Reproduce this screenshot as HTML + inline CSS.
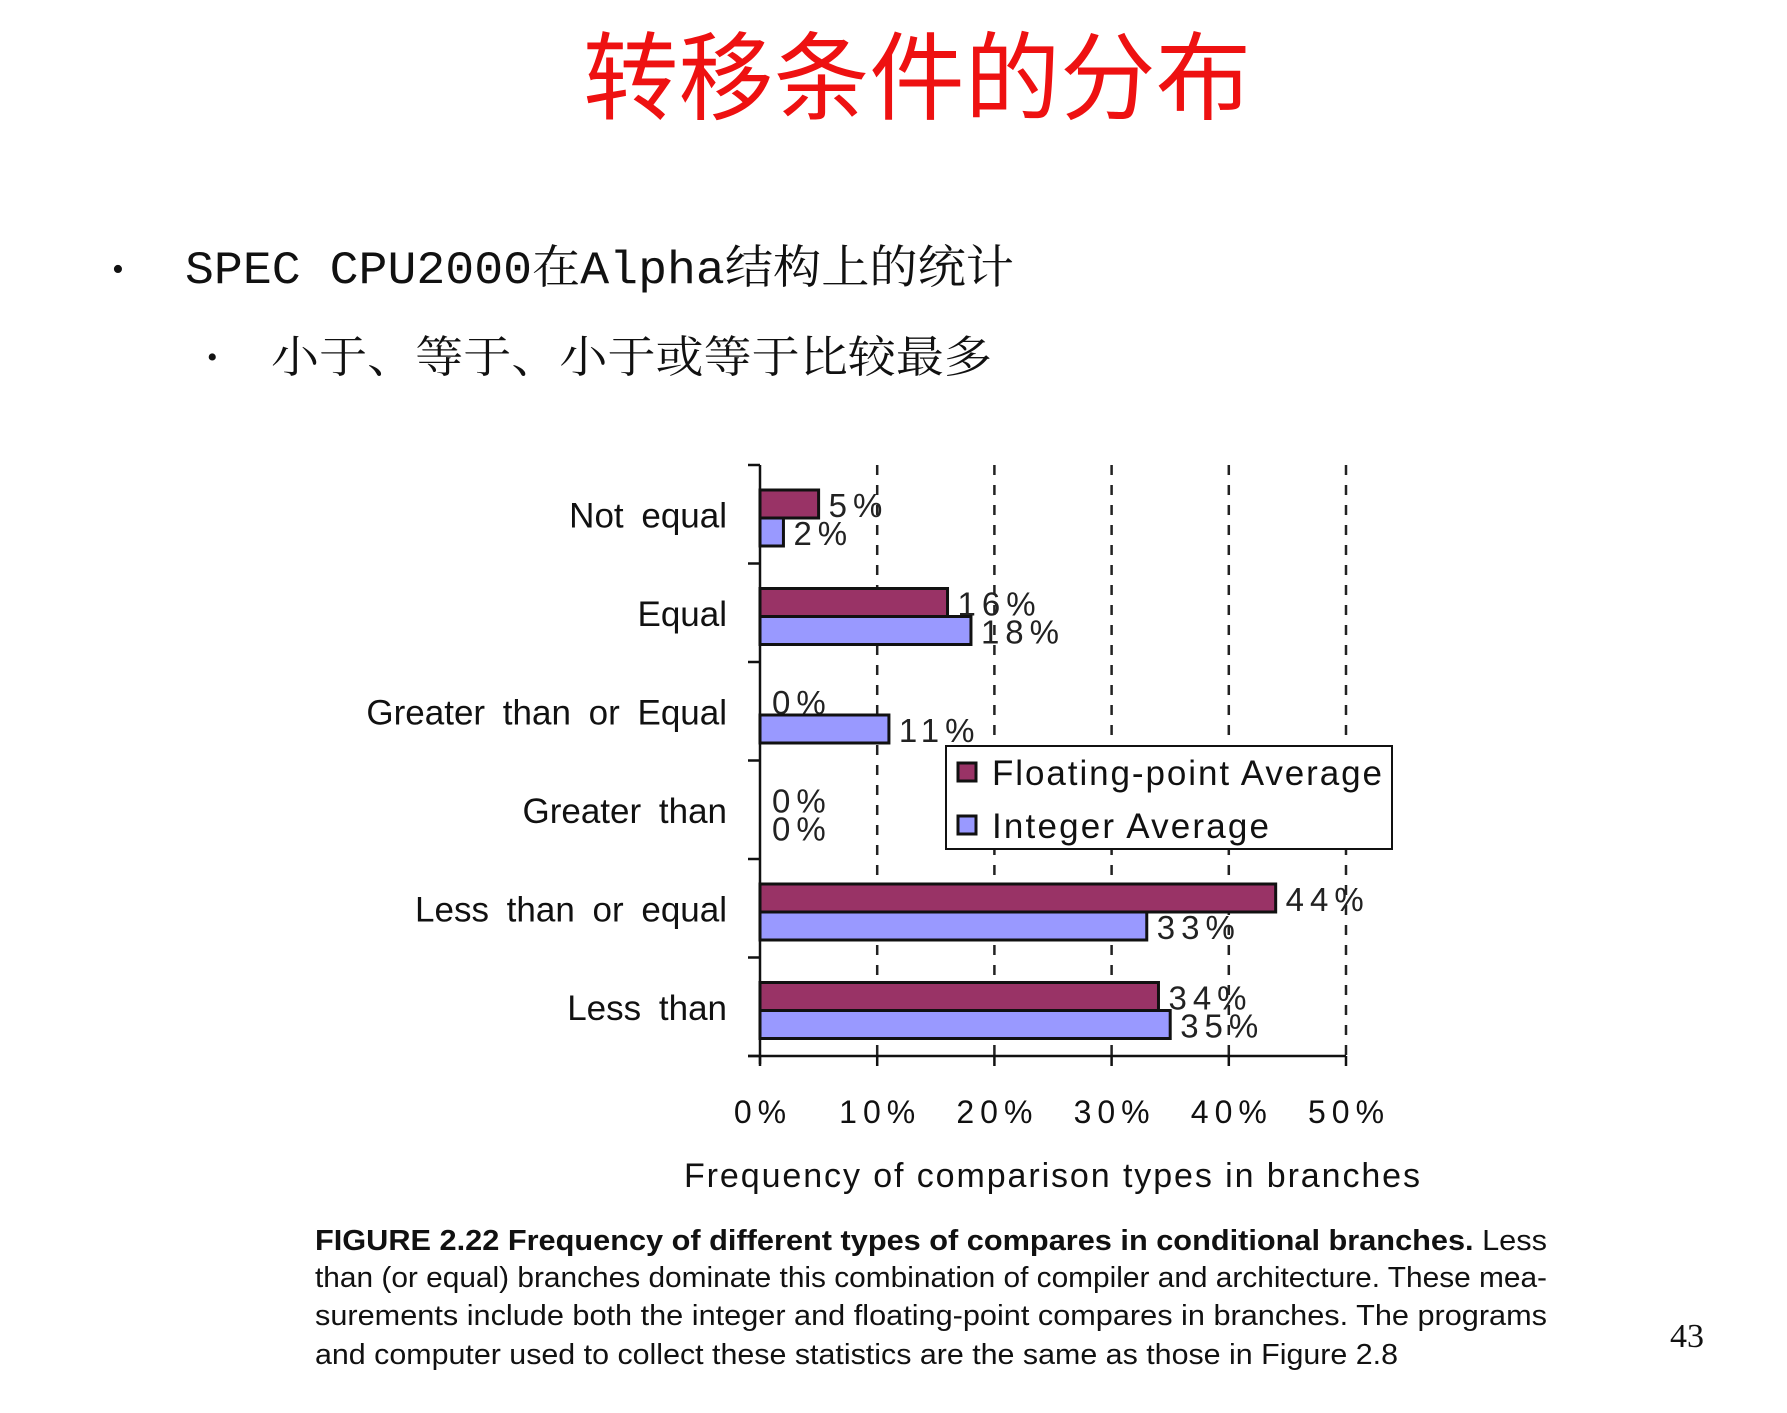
<!DOCTYPE html>
<html><head><meta charset="utf-8"><style>
html,body{margin:0;padding:0;background:#fff;}
body{width:1787px;height:1413px;overflow:hidden;position:relative;}
svg{position:absolute;left:0;top:0;}
</style></head><body>
<svg id="chart" width="1787" height="1413" viewBox="0 0 1787 1413">
<text x="917" y="112" text-anchor="middle" font-family="'Liberation Sans','Noto Sans CJK SC',sans-serif" font-size="96" fill="#ee1111" textLength="668" lengthAdjust="spacingAndGlyphs">转移条件的分布</text>
<text x="112" y="280" font-family="'Liberation Serif','Noto Serif CJK SC',serif" font-size="34" fill="#111">•</text>
<text x="185" y="283" font-family="'Liberation Mono','Noto Serif CJK SC',serif" font-size="46" fill="#111" textLength="829" lengthAdjust="spacingAndGlyphs">SPEC CPU2000在Alpha结构上的统计</text>
<text x="207" y="367" font-family="'Liberation Serif','Noto Serif CJK SC',serif" font-size="30" fill="#111">•</text>
<text x="271" y="372" font-family="'Liberation Serif','Noto Serif CJK SC',serif" font-size="44" fill="#111" textLength="721" lengthAdjust="spacingAndGlyphs">小于、等于、小于或等于比较最多</text>
<g id="plot"></g>
<g font-family="'Liberation Sans',sans-serif" font-size="29" fill="#111">
<text x="315" y="1250" textLength="1232" lengthAdjust="spacingAndGlyphs"><tspan font-weight="bold">FIGURE 2.22   Frequency of different types of compares in conditional branches.</tspan> Less</text>
<text x="315" y="1287" textLength="1232" lengthAdjust="spacingAndGlyphs">than (or equal) branches dominate this combination of compiler and architecture. These mea-</text>
<text x="315" y="1325" textLength="1232" lengthAdjust="spacingAndGlyphs">surements include both the integer and floating-point compares in branches. The programs</text>
<text x="315" y="1364" textLength="1083" lengthAdjust="spacingAndGlyphs">and computer used to collect these statistics are the same as those in Figure 2.8</text>
</g>
<text x="1687" y="1347" text-anchor="middle" font-family="'Liberation Serif',serif" font-size="34" fill="#111">43</text>
</svg>
<script>
const categories = ["Not equal","Equal","Greater than or Equal","Greater than","Less than or equal","Less than"];
const fpValues = [5,16,0,0,44,34];
const intValues = [2,18,11,0,33,35];
const xTicks = [0,10,20,30,40,50];
const seriesNames = ["Floating-point  Average","Integer  Average"];

const NS="http://www.w3.org/2000/svg";
const g=document.getElementById('plot');
const X0=760,PX=11.72,TOP=465,BOT=1056;
const band=(BOT-TOP)/categories.length;
const x=v=>X0+v*PX;
const yb=i=>TOP+i*band;
function mk(t,a,txt){const e=document.createElementNS(NS,t);for(const k in a)e.setAttribute(k,a[k]);if(txt!==undefined)e.textContent=txt;g.appendChild(e);return e;}
const F="'Liberation Sans',sans-serif";
xTicks.forEach(t=>{if(t===0)return;
 const l=mk('line',{x1:x(t),x2:x(t),y1:TOP,y2:BOT,stroke:'#222','stroke-width':2.5,'stroke-dasharray':'10,10'});
 
 
});
const ya=mk('line',{x1:X0,x2:X0,y1:TOP,y2:BOT+8,stroke:'#111','stroke-width':2.5});


const xa=mk('line',{x1:X0-12,x2:x(50),y1:BOT,y2:BOT,stroke:'#111','stroke-width':2.5});


for(let i=0;i<=categories.length;i++){
 const tk=mk('line',{x1:X0-12,x2:X0,y1:yb(i),y2:yb(i),stroke:'#111','stroke-width':2.5});
 
 
}
xTicks.forEach(t=>{
 const tk=mk('line',{x1:x(t),x2:x(t),y1:BOT,y2:BOT+10,stroke:'#111','stroke-width':2.5});
 
 
 const tl=mk('text',{x:x(t)+3,y:1123,'text-anchor':'middle','font-family':F,'font-size':32,fill:'#111','letter-spacing':6},t+'%');
 
 
});
const xt=mk('text',{x:684,y:1187,'font-family':F,'font-size':34,fill:'#111',textLength:736,lengthAdjust:'spacing'},'Frequency of comparison types in branches');


const BH=28;
categories.forEach((c,i)=>{
 const cy=yb(i)+band/2;
 const cl=mk('text',{x:727,y:cy+13,'text-anchor':'end','font-family':F,'font-size':35,fill:'#111','word-spacing':8},c);
 
 
 const fy=yb(i)+25, iy=fy+BH;
 [[fpValues[i],fy,'#993366','fp'],[intValues[i],iy,'#9999ff','int']].forEach(([v,y,col,s])=>{
  if(v>0){
   const r=mk('rect',{x:X0,y:y,width:x(v)-X0,height:BH,fill:col,stroke:'#111','stroke-width':3});
   
   
  }
  const lx=v>0?x(v)+10:X0+12;
  const vl=mk('text',{x:lx,y:y+BH/2+13,'font-family':F,'font-size':33,fill:'#222','letter-spacing':6},v+'%');
  
  
 });
});
const lg=mk('rect',{x:946,y:746,width:446,height:103,fill:'#fff',stroke:'#111','stroke-width':2});


[['#993366',seriesNames[0],785,390],['#9999ff',seriesNames[1],838,277]].forEach(([c,n,y,w])=>{
 const sw=mk('rect',{x:958,y:y-22,width:18,height:18,fill:c,stroke:'#111','stroke-width':3});
 
 
 const t=mk('text',{x:992,y:y,'font-family':F,'font-size':35,fill:'#111','xml:space':'preserve',textLength:w,lengthAdjust:'spacing'},n);
 
 
});
</script>
</body></html>
